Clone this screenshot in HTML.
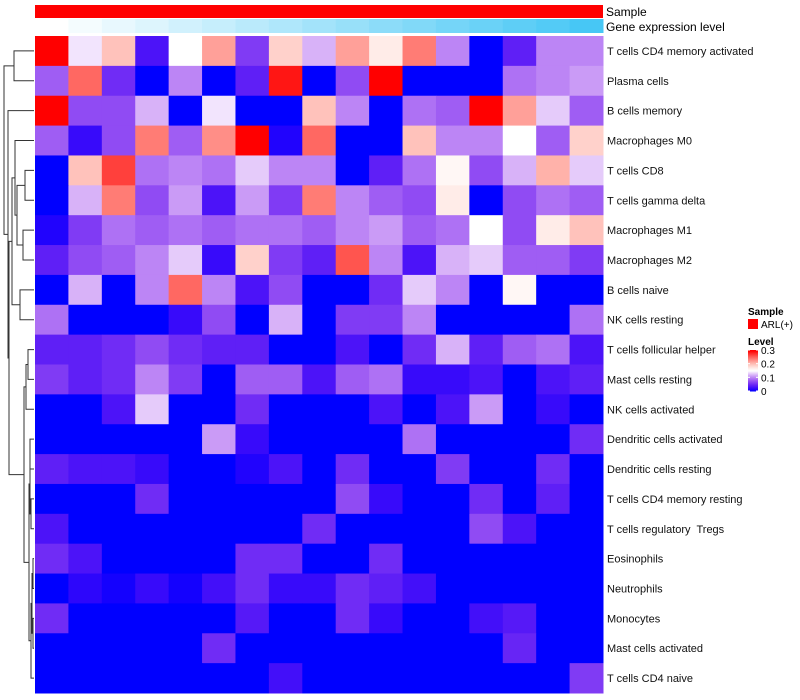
<!DOCTYPE html>
<html><head><meta charset="utf-8"><style>
body{margin:0;background:#fff;font-family:"Liberation Sans",sans-serif;}
svg{display:block}
text{white-space:pre}
</style></head><body>
<svg id="chart" width="800" height="700" xmlns="http://www.w3.org/2000/svg"></svg>
<script>
const rowLabels=["T cells CD4 memory activated","Plasma cells","B cells memory","Macrophages M0","T cells CD8","T cells gamma delta","Macrophages M1","Macrophages M2","B cells naive","NK cells resting","T cells follicular helper","Mast cells resting","NK cells activated","Dendritic cells activated","Dendritic cells resting","T cells CD4 memory resting","T cells regulatory  Tregs","Eosinophils","Neutrophils","Monocytes","Mast cells activated","T cells CD4 naive"];
const values=[
[.3,.14,.2,.03,.15,.22,.06,.19,.12,.22,.17,.24,.1,0,.04,.1,.1],
[.08,.25,.05,0,.1,0,.04,.29,0,.07,.3,0,0,0,.09,.1,.11],
[.3,.07,.07,.12,0,.14,0,0,.2,.1,0,.09,.08,.3,.22,.13,.08],
[.08,.02,.07,.24,.08,.23,.3,.01,.25,0,0,.2,.1,.1,.15,.08,.19],
[0,.2,.27,.09,.1,.09,.13,.1,.1,0,.04,.09,.16,.07,.12,.21,.13],
[0,.12,.24,.07,.11,.03,.11,.06,.24,.1,.08,.07,.17,0,.07,.09,.08],
[.01,.06,.09,.08,.09,.08,.09,.09,.08,.1,.11,.08,.09,.15,.07,.17,.2],
[.04,.07,.08,.1,.13,.02,.19,.06,.04,.26,.1,.03,.12,.13,.08,.08,.06],
[0,.12,0,.1,.25,.1,.03,.07,0,0,.05,.13,.1,0,.16,0,0],
[.09,0,0,0,.02,.07,0,.12,0,.06,.06,.1,0,0,0,0,.09],
[.04,.04,.05,.07,.05,.04,.04,0,0,.03,0,.05,.12,.04,.08,.09,.03],
[.06,.04,.05,.1,.06,0,.08,.08,.03,.08,.09,.02,.02,.03,0,.03,.04],
[0,0,.03,.13,0,0,.05,0,0,0,.03,0,.03,.11,0,.02,0],
[0,0,0,0,0,.11,.02,0,0,0,0,.09,0,0,0,0,.05],
[.04,.03,.03,.02,0,0,.01,.03,0,.05,0,0,.06,0,0,.05,0],
[0,0,0,.05,0,0,0,0,0,.07,.02,0,0,.05,0,.04,0],
[.03,0,0,0,0,0,0,0,.05,0,0,0,0,.07,.03,0,0],
[.05,.03,0,0,0,0,.05,.05,0,0,.05,0,0,0,0,0,0],
[0,.015,.005,.02,.005,.025,.05,.02,.02,.05,.04,.025,0,0,0,0,0],
[.05,0,0,0,0,0,.035,0,0,.05,.02,0,0,.025,.035,0,0],
[0,0,0,0,0,.05,0,0,0,0,0,0,0,0,.045,0,0],
[0,0,0,0,0,0,0,.025,0,0,0,0,0,0,0,0,.06]];
const geneLevel=[0,1,2,3,4,5,6,7,8,9,10,11,12,13,14,15,16];
const legendTicks=[0,0.1,0.2,0.3];

const NS="http://www.w3.org/2000/svg";
const svg=document.getElementById('chart');
function mk(t,a,p){const e=document.createElementNS(NS,t);for(const k in a)e.setAttribute(k,a[k]);(p||svg).appendChild(e);return e;}
const X0=35,X1=603,Y0=36,Y1=693;
const nC=values[0].length,nR=values.length;
const cw=(X1-X0)/nC,rh=(Y1-Y0)/nR;
const xPos=c=>X0+c*cw, yPos=r=>Y0+r*rh;
function color(v){
  const mid=0.15;
  if(v<=mid){const t=Math.max(0,v)/mid;
    return `rgb(${Math.round(255*Math.pow(t,0.75))},${Math.round(255*Math.pow(t,1.6))},${Math.round(255-12*Math.sin(t*Math.PI))})`;}
  const t=Math.min(1,(v-mid)/0.15);
  return `rgb(255,${Math.round(255*(1-Math.pow(t,1.3)))},${Math.round(255*(1-Math.pow(t,1.2)))})`;
}
const s=mk('rect',{x:X0,y:5,width:X1-X0,height:13,fill:'#ff0000'});


geneLevel.forEach((g,i)=>{
  const t=g/(geneLevel.length-1);
  const r=mk('rect',{x:xPos(i),y:19,width:cw+0.5,height:14,fill:`rgb(${Math.round(255-184*t)},${Math.round(255-56*t)},${Math.round(255-10*t)})`});
  
  
});
let tx=mk('text',{x:606,y:16,'font-size':12});tx.textContent='Sample';


tx=mk('text',{x:606,y:31,'font-size':12});tx.textContent='Gene expression level';


values.forEach((row,r)=>{
  row.forEach((v,c)=>{
    const e=mk('rect',{x:xPos(c),y:yPos(r),width:cw+0.5,height:rh+0.5,fill:color(v)});
    
    
  });
  const l=mk('text',{x:607,y:yPos(r)+rh/2+4,'font-size':11,fill:'#111'});
  l.textContent=rowLabels[r];
  
  
});
const g=mk('g',{stroke:'#333','stroke-width':1,fill:'none'});


const leafY=i=>yPos(i)+rh/2;
function node(a,b,x){mk('path',{d:`M${a.x},${a.y}H${x}V${b.y}H${b.x}`},g);return {x:x,y:(a.y+b.y)/2};}
const L=i=>({x:34,y:leafY(i)});
const A=node(L(0),L(1),14);
const a=node(L(4),L(5),25),b=node(L(6),L(7),23),c=node(a,b,17),d=node(L(3),c,15),e=node(L(8),L(9),20),f=node(d,e,12);
const gg=node(L(10),L(11),28),h=node(gg,L(12),26),i=node(L(13),L(14),30),j=node(L(15),L(16),31),k=node(i,j,30);
const l=node(L(17),L(18),33),m=node(L(19),L(20),33),o=node(l,m,32),p=node(o,L(21),31),q=node(k,p,29),r=node(h,q,24);
const sN=node(f,r,9),t=node(L(2),sN,8);node(A,t,4);
tx=mk('text',{x:748,y:315,'font-size':10,'font-weight':'bold'});tx.textContent='Sample';


const sw=mk('rect',{x:748,y:319,width:10,height:10,fill:'#ff0000'});


tx=mk('text',{x:761,y:328,'font-size':10});tx.textContent='ARL(+)';


tx=mk('text',{x:748,y:345,'font-size':10,'font-weight':'bold'});tx.textContent='Level';


const LY0=391,LY1=350;
for(let k2=0;k2<41;k2++){
  const v=0.3*k2/40;
  const e=mk('rect',{x:748,y:LY0-k2-1,width:10,height:1.5,fill:color(v)});
  
  
}
legendTicks.forEach(v=>{
  const y=LY0-(v/0.3)*(LY0-LY1);
  mk('line',{x1:748,x2:750,y1:y,y2:y,stroke:'#fff'});
  mk('line',{x1:756,x2:758,y1:y,y2:y,stroke:'#fff'});
  const te=mk('text',{x:761,y:y+4,'font-size':10});te.textContent=String(v);
  
  
});
</script>
</body></html>
